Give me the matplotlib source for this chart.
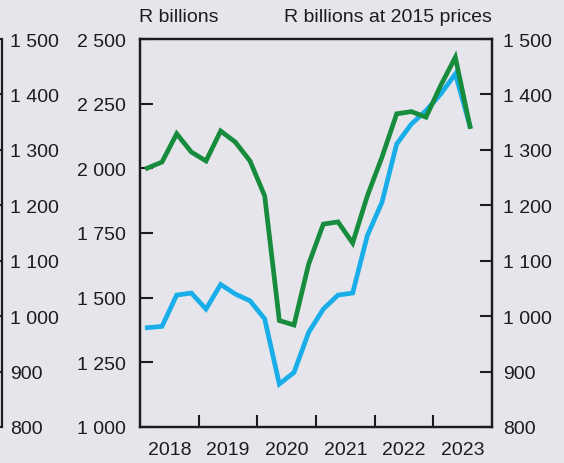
#!/usr/bin/env python3
"""Nominal vs real series, quarterly 2018-2023, twin y-axes."""

import matplotlib
matplotlib.use("Agg")
import matplotlib.pyplot as plt
from matplotlib.ticker import FixedLocator, FuncFormatter, NullFormatter

# quarterly points, starting 2018 Q1
start_year = 2018
nominal = [1384, 1389, 1510, 1518, 1456, 1551, 1514, 1488, 1418, 1166, 1211, 1366,
           1456, 1510, 1518, 1740, 1869, 2094, 2171, 2223, 2287, 2365, 2163]  # R billions
real = [1267, 1278, 1329, 1296, 1280, 1334, 1314, 1280, 1217, 992, 984, 1094,
        1166, 1170, 1132, 1217, 1287, 1365, 1369, 1359, 1416, 1467, 1342]   # R billions at 2015 prices

years = [2018, 2019, 2020, 2021, 2022, 2023]
left_ticks = [1000, 1250, 1500, 1750, 2000, 2250, 2500]
right_ticks = [800, 900, 1000, 1100, 1200, 1300, 1400, 1500]

BG = "#e5e5eb"
INK = "#1e1b1c"
BLUE = "#19aeea"
GREEN = "#178c3c"
FS = 14


def spaced(v, _pos=None):
    return f"{int(round(v)):,}".replace(",", " ")


def qx(n):
    return [start_year + 0.125 + 0.25 * i for i in range(n)]


plt.rcParams["font.family"] = ["Liberation Sans", "DejaVu Sans"]
plt.rcParams["font.size"] = FS
plt.rcParams["text.color"] = INK

W, H = 564, 464
fig = plt.figure(figsize=(W / 100, H / 100), dpi=100, facecolor=BG)

L, R, T, B = 140, 492, 40, 428
rect = [L / W, 1 - B / H, (R - L) / W, (B - T) / H]

ax = fig.add_axes(rect)
ax.set_facecolor(BG)
ax2 = ax.twinx()

ax.plot(qx(len(nominal)), nominal, color=BLUE, lw=3.4, solid_joinstyle="miter", zorder=2)
ax2.plot(qx(len(real)), real, color=GREEN, lw=3.4, solid_joinstyle="miter", zorder=3)

ax.set_xlim(2018, 2024)
ax.set_ylim(1000, 2500)
ax2.set_ylim(800, 1500)

ax.yaxis.set_major_locator(FixedLocator(left_ticks))
ax.yaxis.set_major_formatter(FuncFormatter(spaced))
ax2.yaxis.set_major_locator(FixedLocator(right_ticks))
ax2.yaxis.set_major_formatter(FuncFormatter(spaced))

ax.xaxis.set_major_locator(FixedLocator([y + 1 for y in years[:-1]]))
ax.xaxis.set_major_formatter(NullFormatter())
ax.xaxis.set_minor_locator(FixedLocator([y + 0.5 for y in years]))
ax.xaxis.set_minor_formatter(FuncFormatter(lambda v, p: str(int(v))))

ax.tick_params(axis="x", which="major", direction="in", length=9, width=1.5, color=INK)
ax.tick_params(axis="x", which="minor", length=0, pad=10, labelsize=FS, labelcolor=INK)
ax.tick_params(axis="y", direction="in", length=9, width=1.5, pad=10, labelsize=FS,
               labelcolor=INK, color=INK)
ax2.tick_params(axis="y", direction="in", length=9, width=1.5, pad=8, labelsize=FS,
                labelcolor=INK, color=INK)

for a in (ax, ax2):
    for s in a.spines.values():
        s.set_linewidth(1.6)
        s.set_color(INK)

# right axis of the neighbouring panel, cut off at the left edge
ax0 = fig.add_axes([-0.3, rect[1], 0.3 + 1.5 / W, rect[3]])
ax0.set_facecolor("none")
ax0.set_xlim(0, 1)
ax0.set_ylim(800, 1500)
for side in ("left", "top", "bottom"):
    ax0.spines[side].set_visible(False)
ax0.spines["right"].set_linewidth(1.6)
ax0.spines["right"].set_color(INK)
ax0.set_xticks([])
ax0.yaxis.tick_right()
ax0.yaxis.set_major_locator(FixedLocator(right_ticks))
ax0.yaxis.set_major_formatter(FuncFormatter(spaced))
ax0.tick_params(axis="y", direction="in", length=9, width=1.5, pad=6, labelsize=FS,
                labelcolor=INK, color=INK)

fig.text(L / W - 0.002, 1 - 17 / H, "R billions", ha="left", va="center", fontsize=FS)
fig.text(R / W, 1 - 17 / H, "R billions at 2015 prices", ha="right", va="center", fontsize=FS)

fig.savefig("out.png", dpi=100, facecolor=BG)
